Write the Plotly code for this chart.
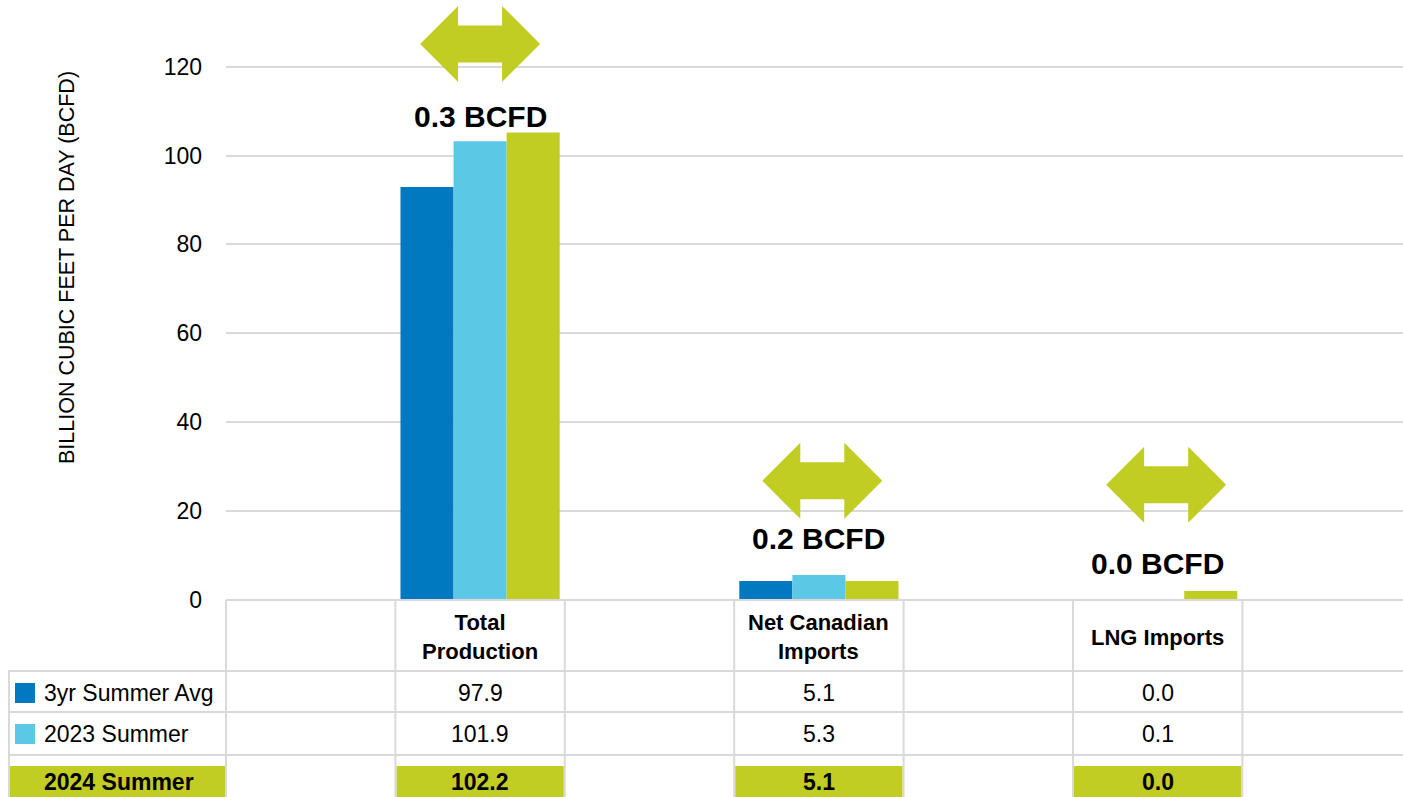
import plotly.graph_objects as go

# ---------------- data ----------------
slots = ["", "Total Production", "", "Net Canadian Imports", "", "LNG Imports", ""]
header_labels = ["", "Total<br>Production", "", "Net Canadian<br>Imports", "", "LNG Imports", ""]
series_names = ["3yr Summer Avg", "2023 Summer", "2024 Summer"]
# bar heights as drawn in the picture
bars_3yr = [None, 92.9, None, 4.3, None, 0.0, None]
bars_2023 = [None, 103.2, None, 5.6, None, 0.0, None]
bars_2024 = [None, 105.2, None, 4.3, None, 2.0, None]
# values shown in the data table
table_3yr = ["", "97.9", "", "5.1", "", "0.0", ""]
table_2023 = ["", "101.9", "", "5.3", "", "0.1", ""]
table_2024 = ["", "102.2", "", "5.1", "", "0.0", ""]
change_labels = ["0.3 BCFD", "0.2 BCFD", "0.0 BCFD"]
change_slots = [1, 3, 5]
change_label_y = [108.7, 13.9, 8.3]
arrow_y = [125.1, 26.8, 25.9]
arrow_shift = [0.0, 0.02, 0.05]   # small horizontal nudges of the arrow callouts (category units)
y_ticks = [0, 20, 40, 60, 80, 100, 120]

colors = ["#0079C1", "#5BC8E6", "#C2CD23"]
GRID = "#D9D9D9"
FONT = "Liberation Sans, Arial, sans-serif"

x_idx = list(range(len(slots)))
fig = go.Figure()
for name, vals, c in zip(series_names, [bars_3yr, bars_2023, bars_2024], colors):
    fig.add_trace(go.Bar(x=x_idx, y=vals, name=name, marker=dict(color=c, line=dict(width=0)),
                         showlegend=False, hoverinfo="skip"))

# ---------------- helpers for layout geometry ----------------
W, H = 1403, 797
L, B = 226, 197
PLOT_W, PLOT_H = W - L, H - B
CAT_PX = 169.4
PX_PER_UNIT = 4.445
def yp(py):
    return (PLOT_H - py) / PLOT_H
def xp(px):
    return (px - L) / PLOT_W
def cat_px(k):
    return L + (k + 0.5) * CAT_PX

shapes = []
annotations = []

# double-headed arrows in data coordinates
half_w = 60 / CAT_PX
head_len = 38 / CAT_PX
shaft_h = 18.5 / PX_PER_UNIT
head_h = 38 / PX_PER_UNIT
for slot, dx, cy in zip(change_slots, arrow_shift, arrow_y):
    cx = slot + dx
    pts = [
        (cx - half_w, cy),
        (cx - half_w + head_len, cy + head_h),
        (cx - half_w + head_len, cy + shaft_h),
        (cx + half_w - head_len, cy + shaft_h),
        (cx + half_w - head_len, cy + head_h),
        (cx + half_w, cy),
        (cx + half_w - head_len, cy - head_h),
        (cx + half_w - head_len, cy - shaft_h),
        (cx - half_w + head_len, cy - shaft_h),
        (cx - half_w + head_len, cy - head_h),
    ]
    path = "M " + " L ".join(f"{x},{y}" for x, y in pts) + " Z"
    shapes.append(dict(type="path", path=path, xref="x", yref="y",
                       fillcolor=colors[2], line=dict(width=0)))

for cx, cy, t in zip(change_slots, change_label_y, change_labels):
    annotations.append(dict(x=cx, y=cy, xref="x", yref="y", text=f"<b>{t}</b>", showarrow=False,
                            font=dict(family=FONT, size=30, color="#000000"),
                            xanchor="center", yanchor="middle"))

# ---------------- data table ----------------
line = dict(color=GRID, width=2)
x_right = xp(1410)
shapes.append(dict(type="line", xref="paper", yref="paper", x0=0, x1=x_right, y0=yp(600), y1=yp(600), line=line))
for py in [671, 712, 755]:
    shapes.append(dict(type="line", xref="paper", yref="paper", x0=xp(8), x1=x_right, y0=yp(py), y1=yp(py), line=line))
for k in range(len(slots) + 1):
    px = L + k * CAT_PX
    shapes.append(dict(type="line", xref="paper", yref="paper", x0=xp(px), x1=xp(px), y0=yp(600), y1=yp(800), line=line))
shapes.append(dict(type="line", xref="paper", yref="paper", x0=xp(9), x1=xp(9), y0=yp(671), y1=yp(800), line=line))

# green highlight row
shapes.append(dict(type="rect", xref="paper", yref="paper", x0=xp(10), x1=xp(225), y0=yp(766), y1=yp(800),
                   fillcolor=colors[2], line=dict(width=0), layer="below"))
for k, s in enumerate(slots):
    if s:
        shapes.append(dict(type="rect", xref="paper", yref="paper",
                           x0=xp(L + k * CAT_PX + 1), x1=xp(L + (k + 1) * CAT_PX - 1),
                           y0=yp(766), y1=yp(800), fillcolor=colors[2], line=dict(width=0), layer="below"))

TABLE_FONT = 23
row_y = [693, 734, 782]
for i, (name, c) in enumerate(zip(series_names, colors)):
    if i < 2:
        shapes.append(dict(type="rect", xref="paper", yref="paper", x0=xp(15), x1=xp(35),
                           y0=yp(row_y[i] - 10), y1=yp(row_y[i] + 10), fillcolor=c, line=dict(width=0)))
        annotations.append(dict(x=xp(42), y=yp(row_y[i]), xref="paper", yref="paper", text=name,
                                showarrow=False, xanchor="left", yanchor="middle",
                                font=dict(family=FONT, size=TABLE_FONT, color="#000000")))
    else:
        annotations.append(dict(x=xp(119), y=yp(row_y[i]), xref="paper", yref="paper", text=f"<b>{name}</b>",
                                showarrow=False, xanchor="center", yanchor="middle",
                                font=dict(family=FONT, size=TABLE_FONT, color="#000000")))

for k, h in enumerate(header_labels):
    if h:
        annotations.append(dict(x=xp(cat_px(k)), y=yp(637), xref="paper", yref="paper", text=f"<b>{h}</b>",
                                showarrow=False, xanchor="center", yanchor="middle",
                                font=dict(family=FONT, size=TABLE_FONT - 1, color="#000000")))
for ri, row in enumerate([table_3yr, table_2023, table_2024]):
    for k, v in enumerate(row):
        if v:
            txt = f"<b>{v}</b>" if ri == 2 else v
            annotations.append(dict(x=xp(cat_px(k)), y=yp(row_y[ri]), xref="paper", yref="paper", text=txt,
                                    showarrow=False, xanchor="center", yanchor="middle",
                                    font=dict(family=FONT, size=TABLE_FONT, color="#000000")))

annotations.append(dict(x=xp(67), y=yp(268), xref="paper", yref="paper", text="BILLION CUBIC FEET PER DAY (BCFD)",
                        textangle=-90, showarrow=False, xanchor="center", yanchor="middle",
                        font=dict(family=FONT, size=21.5, color="#000000")))

fig.update_layout(
    width=W, height=H,
    margin=dict(l=L, r=0, t=0, b=B, pad=0),
    plot_bgcolor="white", paper_bgcolor="white",
    barmode="group", bargap=0.06, bargroupgap=0,
    shapes=shapes, annotations=annotations,
    xaxis=dict(range=[-0.5, (W - L) / CAT_PX - 0.5], showticklabels=False, showgrid=False, zeroline=False,
               showline=False, ticks="", fixedrange=True),
    yaxis=dict(range=[0, PLOT_H / PX_PER_UNIT], tickvals=y_ticks, showgrid=True, gridcolor=GRID, gridwidth=1.5,
               zeroline=False, showline=False, ticks="", ticklabelstandoff=23,
               tickfont=dict(family=FONT, size=23, color="#000000")),
)

fig.write_html("out.html", config={"displayModeBar": False},
               post_script="document.body.style.margin='0';document.body.style.overflow='hidden';")
